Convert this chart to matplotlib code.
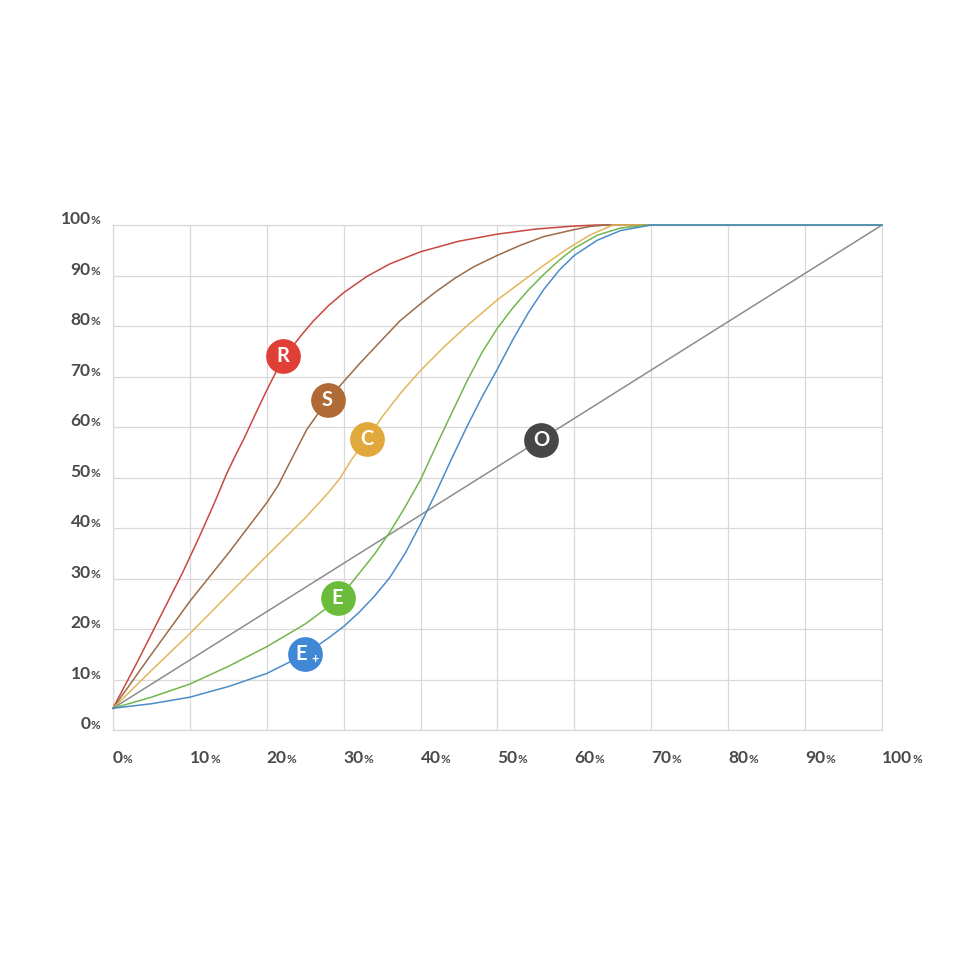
import matplotlib
matplotlib.use("Agg")
import matplotlib.pyplot as plt
from matplotlib.offsetbox import TextArea, HPacker, AnnotationBbox

# 読み取った値 (x: %, y: %)
r_x = [0, 3, 6, 9, 11, 13, 14.8, 15.8, 17, 18.5, 20, 21.5, 23, 24.5, 26, 28, 30, 33, 36, 40, 45, 50, 55, 60, 63, 100]
r_y = [4.3, 13, 22, 31, 37.5, 44.3, 50.8, 54, 57.6, 62.5, 67.3, 71.8, 75.3, 78.2, 80.9, 84, 86.6, 89.8, 92.3, 94.7, 96.8, 98.2, 99.2, 99.8, 100, 100]

s_x = [0, 5, 10, 15, 20, 21.5, 23, 25.2, 27.9, 30, 32.1, 35, 37.3, 40, 42, 44.5, 47, 50, 53, 56, 60, 62, 64, 100]
s_y = [4.3, 15, 25.5, 35, 45, 48.5, 53, 59.5, 65.3, 69, 72.6, 77.3, 81, 84.4, 86.8, 89.5, 91.8, 94, 96, 97.7, 99.1, 99.7, 100, 100]

c_x = [0, 5, 10, 15, 20, 25, 28, 29.5, 31, 33, 35, 37.5, 40, 43, 46, 50, 53, 56, 59, 62, 65, 100]
c_y = [4.3, 11.8, 19.1, 26.8, 34.5, 42, 47, 49.8, 53.5, 57.6, 62, 66.9, 71.2, 75.8, 80, 85.2, 88.6, 92, 95.2, 98, 100, 100]

o_x = [0, 100]
o_y = [4.3, 100]

e_x = [0, 5, 10, 15, 20, 25, 28, 30, 32, 34, 36, 38, 40, 42, 44, 46, 48, 50, 52, 54, 56, 58, 60, 63, 66, 69.5, 100]
e_y = [4.3, 6.5, 9.1, 12.6, 16.5, 21, 24.4, 27.2, 31, 34.8, 39.2, 44.2, 49.6, 56.2, 62.6, 69, 74.8, 79.6, 83.6, 87.1, 90.2, 93, 95.4, 98, 99.4, 100, 100]

ep_x = [0, 5, 10, 15, 20, 25, 28, 30, 32, 34, 36, 38, 40, 42, 44, 46, 48, 50, 52, 54, 56, 58, 60, 63, 66, 70, 100]
ep_y = [4.3, 5.2, 6.5, 8.6, 11.2, 15, 18.2, 20.5, 23.3, 26.5, 30.2, 35, 40.8, 47, 53.6, 60, 66, 71.5, 77.3, 82.6, 87.2, 91, 94, 97, 98.9, 100, 100]

# ラベル (文字, x, y)
labels = ["R", "S", "C", "O", "E", "E+"]
label_x = [22.1, 27.9, 33.0, 55.7, 29.2, 25.0]
label_y = [74.0, 65.3, 57.6, 57.4, 26.1, 15.0]

ticks = [0, 10, 20, 30, 40, 50, 60, 70, 80, 90, 100]

line_colors = ["#c9473f", "#9c6b48", "#e2b65a", "#8c8c8c", "#72b64c", "#4b8ccb"]
dot_colors = ["#df3f35", "#b06a35", "#e1a93c", "#474747", "#6cbc3c", "#3f88d6"]


def pct_label(num, fs_num=12.5, fs_pct=8.5):
    t1 = TextArea(str(num), textprops=dict(fontsize=fs_num, fontweight="bold", color="#4a4a4a", family="Lato"))
    t2 = TextArea("%", textprops=dict(fontsize=fs_pct, fontweight="bold", color="#4a4a4a", family="Lato"))
    return HPacker(children=[t1, t2], align="baseline", pad=0, sep=0)


def main():
    fig = plt.figure(figsize=(9.8, 9.8), dpi=100)
    ax = fig.add_axes([0.1153, 0.2551, 0.9 - 0.1153, 0.7704 - 0.2551])

    series = [(r_x, r_y), (s_x, s_y), (c_x, c_y), (o_x, o_y), (e_x, e_y), (ep_x, ep_y)]
    for (xs, ys), col in zip(series, line_colors):
        ax.plot(xs, ys, color=col, lw=1.1, clip_on=False, zorder=3,
                solid_joinstyle="round")

    # 丸ラベル
    for lab, lx, ly, col in zip(labels, label_x, label_y, dot_colors):
        ax.plot(lx, ly, "o", ms=25, color=col, mec="white", mew=0, zorder=5)
        if lab == "E+":
            ax.text(lx - 0.5, ly, "E", color="white", fontsize=14.5, fontweight="bold",
                    family="Lato", ha="center", va="center", zorder=6)
            ax.text(lx + 1.3, ly - 1.0, "+", color="white", fontsize=9, fontweight="bold",
                    family="Lato", ha="center", va="center", zorder=6)
        else:
            ax.text(lx, ly, lab, color="white", fontsize=14.5, fontweight="bold",
                    family="Lato", ha="center", va="center", zorder=6)

    ax.set_xlim(0, 100)
    ax.set_ylim(0, 100)
    ax.set_xticks(ticks)
    ax.set_yticks(ticks)
    ax.set_xticklabels([])
    ax.set_yticklabels([])
    ax.tick_params(length=0)
    ax.grid(True, color="#d9d9d9", lw=0.9)
    ax.set_axisbelow(True)
    for sp in ax.spines.values():
        sp.set_color("#d9d9d9")
        sp.set_linewidth(0.9)

    # 目盛ラベル
    for t in ticks:
        ab = AnnotationBbox(pct_label(t), (0, t), xycoords=("axes fraction", "data"),
                            xybox=(-9, 4), boxcoords="offset points",
                            box_alignment=(1, 0.5), frameon=False, annotation_clip=False)
        ax.add_artist(ab)
        ab = AnnotationBbox(pct_label(t), (t, 0), xycoords=("data", "axes fraction"),
                            xybox=(0, -20), boxcoords="offset points",
                            box_alignment=(0, 0.5), frameon=False, annotation_clip=False)
        ax.add_artist(ab)

    fig.savefig("out.png", dpi=100, facecolor="white")


if __name__ == "__main__":
    main()
